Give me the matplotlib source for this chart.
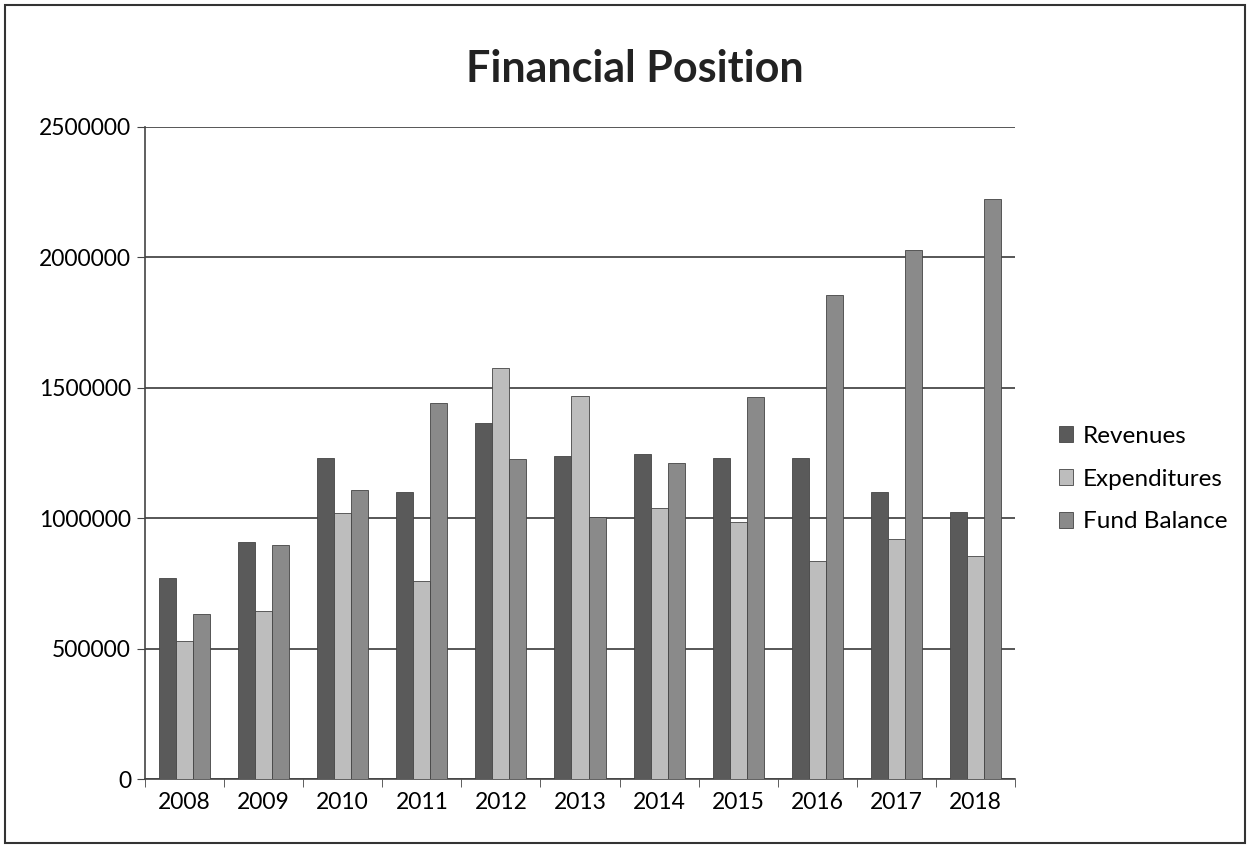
import numpy as np
import matplotlib.pyplot as plt
from matplotlib.patches import Rectangle

plt.rcParams['font.family'] = ['Lato', 'DejaVu Sans']

# Werte
jahre = ['2008', '2009', '2010', '2011', '2012', '2013', '2014', '2015', '2016', '2017', '2018']
revenues = [770000, 910000, 1230000, 1100000, 1365000, 1240000, 1245000, 1230000, 1230000, 1100000, 1025000]
expenditures = [530000, 645000, 1020000, 760000, 1575000, 1470000, 1040000, 985000, 835000, 920000, 855000]
fund_balance = [632000, 898000, 1110000, 1440000, 1228000, 1003000, 1210000, 1465000, 1855000, 2030000, 2225000]

serien = [
    ('Revenues', revenues, '#5a5a5a'),
    ('Expenditures', expenditures, '#bdbdbd'),
    ('Fund Balance', fund_balance, '#8a8a8a'),
]

fig = plt.figure(figsize=(12.5, 8.46), dpi=100)
ax = fig.add_axes([0.116, 0.079, 0.696, 0.771])

x = np.arange(len(jahre))
breite = 0.215
for i, (name, werte, farbe) in enumerate(serien):
    ax.bar(x + (i - 1) * breite, werte, breite, color=farbe, edgecolor='#444444',
           linewidth=0.6, label=name, zorder=3)

ax.set_ylim(0, 2500000)
ax.set_xlim(-0.5, len(jahre) - 0.5)
ax.set_yticks(np.arange(0, 2500001, 500000))
ax.set_yticklabels([str(v) for v in range(0, 2500001, 500000)], fontsize=16.5)
ax.set_xticks(x)
ax.set_xticklabels(jahre, fontsize=16.5)
ax.set_xticks(np.arange(-0.5, len(jahre), 1), minor=True)
ax.tick_params(axis='x', which='major', length=0, pad=9)
ax.tick_params(axis='x', which='minor', length=6, color='#444444')
ax.tick_params(axis='y', length=6, color='#444444', pad=4)
ax.grid(axis='y', color='#3a3a3a', linewidth=1.2, zorder=0)

for s in ['top', 'right']:
    ax.spines[s].set_visible(False)
for s in ['left', 'bottom']:
    ax.spines[s].set_color('#444444')
    ax.spines[s].set_linewidth(1.2)

fig.text(0.508, 0.918, 'Financial Position', ha='center', va='center',
         fontsize=31, fontweight='bold', color='#222222')

ax.legend(loc='center left', bbox_to_anchor=(1.025, 0.46), frameon=False,
          fontsize=17.5, handlelength=0.6, handleheight=0.6, labelspacing=0.9,
          handletextpad=0.4)

fig.patches.append(Rectangle((0.004, 0.004), 0.992, 0.99, transform=fig.transFigure,
                             fill=False, edgecolor='#333333', linewidth=1.5))

fig.savefig('out.png', dpi=100)
